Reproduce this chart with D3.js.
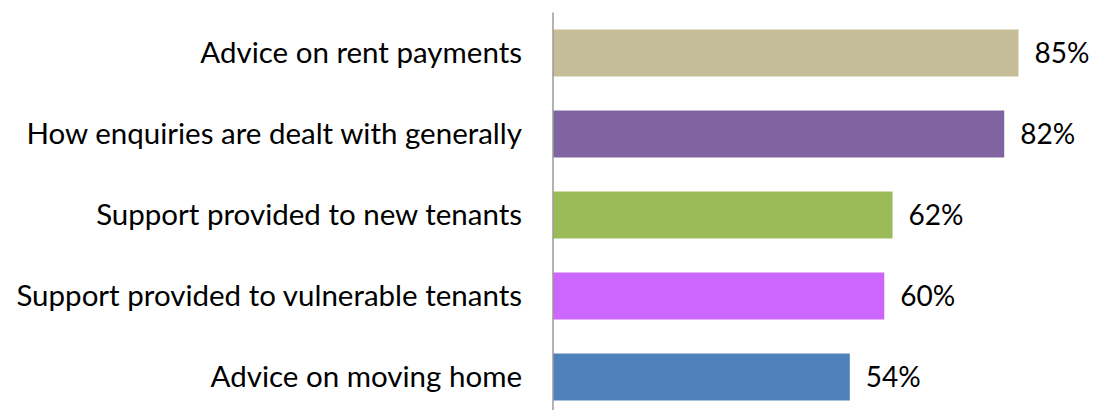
<!DOCTYPE html>
<html>
<head>
<meta charset="utf-8">
<script src="https://cdn.jsdelivr.net/npm/d3@7"></script>
<style>
  body { margin: 0; background: #fff; }
  text { font-family: Lato, "Open Sans", sans-serif; fill: #000; }
</style>
</head>
<body>
<script>
const categories = [
    "Advice on rent payments",
    "How enquiries are dealt with generally",
    "Support provided to new tenants",
    "Support provided to vulnerable tenants",
    "Advice on moving home"
];
const values = [85.0, 82.4, 62.0, 60.5, 54.2];
const valueLabels = ["85%", "82%", "62%", "60%", "54%"];
const colors = ["#C4BD97", "#8064A2", "#9BBB59", "#CC66FF", "#4F81BD"];

const width = 1093;
const height = 410;
const left = 553;

const svg = d3.select("body").append("svg")
    .attr("width", width)
    .attr("height", height)
    .attr("viewBox", [0, 0, width, height]);

const x = d3.scaleLinear()
    .domain([0, 100])
    .range([left, left + 547.6]);

const y = d3.scaleBand()
    .domain(categories)
    .range([12.5, 417.5])
    .paddingInner(0.42)
    .paddingOuter(0.21);

svg.append("g")
    .selectAll()
    .data(categories)
    .join("rect")
    .attr("x", x(0))
    .attr("y", d => y(d))
    .attr("width", (d, i) => x(values[i]) - x(0))
    .attr("height", y.bandwidth())
    .attr("fill", (d, i) => colors[i]);

// vertical axis line
svg.append("line")
    .attr("x1", left)
    .attr("x2", left)
    .attr("y1", 12.5)
    .attr("y2", height)
    .attr("stroke", "#9a9a9a")
    .attr("stroke-width", 1.5);

// category labels
svg.append("g")
    .selectAll()
    .data(categories)
    .join("text")
    .attr("x", 522)
    .attr("y", d => y(d) + y.bandwidth() / 2)
    .attr("dy", "0.35em")
    .attr("text-anchor", "end")
    .attr("font-size", 29.5)
    .text(d => d);

// value labels
svg.append("g")
    .selectAll()
    .data(categories)
    .join("text")
    .attr("x", (d, i) => x(values[i]) + 16)
    .attr("y", d => y(d) + y.bandwidth() / 2)
    .attr("dy", "0.35em")
    .attr("font-size", 28)
    .text((d, i) => valueLabels[i]);
</script>
</body>
</html>
